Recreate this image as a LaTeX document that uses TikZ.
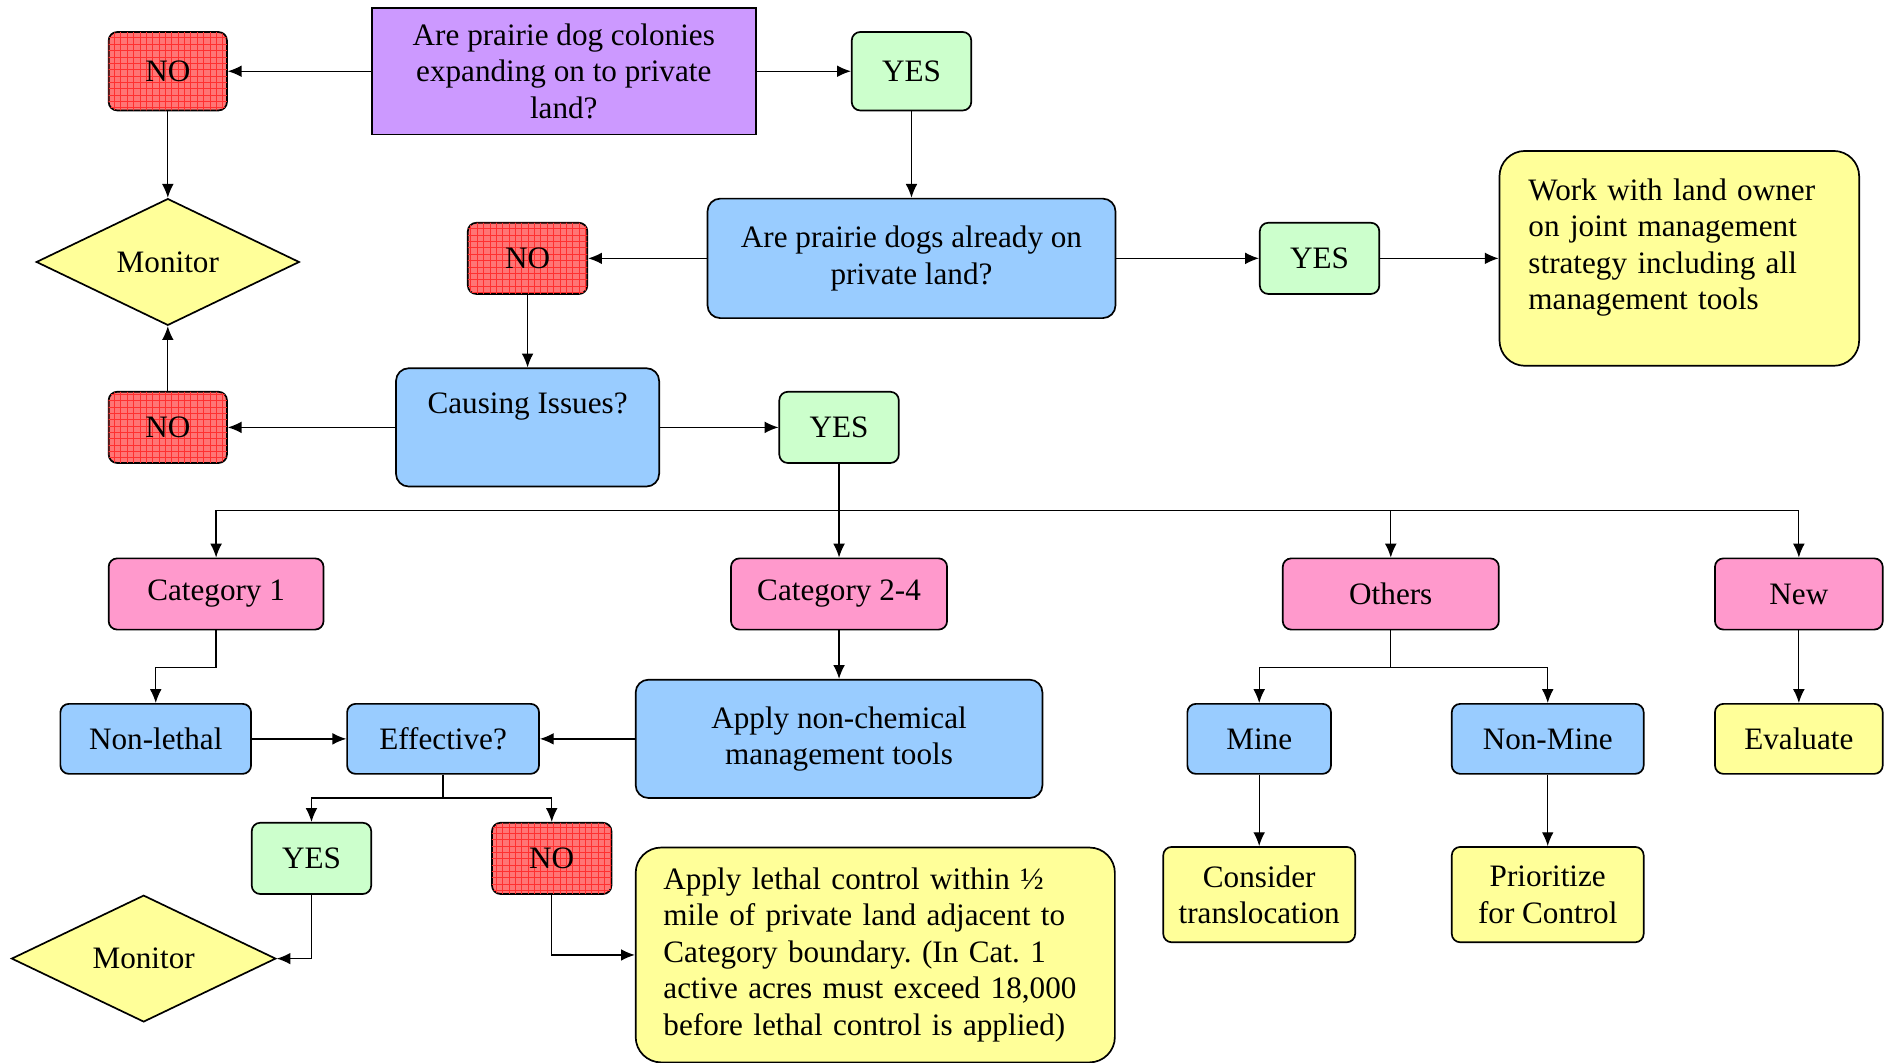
\documentclass[tikz,border=0pt]{standalone}
\usepackage{fontspec}
\setmainfont{Liberation Serif}
\usetikzlibrary{shapes.geometric, patterns, arrows.meta}
\definecolor{lilac}{HTML}{CC99FF}
\definecolor{mint}{HTML}{CCFFCC}
\definecolor{skyblue}{HTML}{99CCFF}
\definecolor{rose}{HTML}{FF99CC}
\definecolor{paleyellow}{HTML}{FFFF99}
\definecolor{stopred}{HTML}{FF7575}
\definecolor{gridred}{HTML}{FF3030}
\begin{document}
\frenchspacing
\begin{tikzpicture}[x=0.02cm,y=-0.02cm]
	\tikzstyle{box} = [draw=black,line width=0.8pt,font=\fontsize{14.7}{17.2}\selectfont,inner sep=2pt,align=center]
	\tikzstyle{nobox} = [box,rounded corners=4pt,fill=stopred,postaction={pattern=grid,pattern color=gridred}]
	\tikzstyle{yesbox} = [box,rounded corners=4pt,fill=mint]
	\tikzstyle{bluebox} = [box,rounded corners=6pt,fill=skyblue]
	\tikzstyle{catbox} = [box,rounded corners=4pt,fill=rose]
	\tikzstyle{yellowbox} = [box,rounded corners=6pt,fill=paleyellow]
	\tikzstyle{decision} = [box,diamond,fill=paleyellow,inner sep=0pt]
	\tikzstyle{edge} = [-{Latex[length=6.5pt,width=5.5pt]},line width=0.6pt]
	\tikzstyle{line} = [-,line width=0.6pt]
	\useasboundingbox (0,0) rectangle (1568,880);
	% top question
	\node[box,fill=lilac,minimum width=6.36cm,minimum height=2.1cm] (q1) at (467,59) {Are prairie dog colonies\\expanding on to private\\land?};
	\node[nobox,minimum width=1.96cm,minimum height=1.3cm] (no1) at (139,59) {NO};
	\node[yesbox,minimum width=1.98cm,minimum height=1.3cm] (yes1) at (755,59) {YES};
	\node[decision,minimum width=4.36cm,minimum height=2.1cm] (mon1) at (139,217) {Monitor};
	% already on private land
	\node[bluebox,minimum width=6.76cm,minimum height=1.98cm] (q2) at (755,214) {Are prairie dogs already on\\private land?};
	\node[nobox,minimum width=1.98cm,minimum height=1.18cm] (no2) at (437,214) {NO};
	\node[yesbox,minimum width=1.98cm,minimum height=1.18cm] (yes2) at (1093,214) {YES};
	\node[yellowbox,rounded corners=12pt,minimum width=5.96cm,minimum height=3.56cm,text width=5.0cm,align=left] (work) at (1391,214) {Work with land owner\\on joint management\\strategy including all\\management tools\\[-9pt]\strut};
	% causing issues
	\node[bluebox,minimum width=4.36cm,minimum height=1.96cm] (causing) at (437,354) {Causing Issues?\\ \strut};
	\node[nobox,minimum width=1.96cm,minimum height=1.18cm] (no3) at (139,354) {NO};
	\node[yesbox,minimum width=1.98cm,minimum height=1.18cm] (yes3) at (695,354) {YES};
	% categories
	\node[catbox,minimum width=3.56cm,minimum height=1.18cm] (cat1) at (179,492) {Category 1};
	\node[catbox,minimum width=3.58cm,minimum height=1.18cm] (cat24) at (695,492) {Category 2-4};
	\node[catbox,minimum width=3.58cm,minimum height=1.18cm] (others) at (1152,492) {Others};
	\node[catbox,minimum width=2.78cm,minimum height=1.18cm] (new) at (1490,492) {New};
	% second level
	\node[bluebox,rounded corners=4pt,minimum width=3.16cm,minimum height=1.16cm] (nonlethal) at (129,612) {Non-lethal};
	\node[bluebox,rounded corners=4pt,minimum width=3.18cm,minimum height=1.16cm] (effective) at (367,612) {Effective?};
	\node[bluebox,minimum width=6.74cm,minimum height=1.96cm] (nonchem) at (695,612) {Apply non-chemical\\management tools};
	\node[bluebox,rounded corners=4pt,minimum width=2.38cm,minimum height=1.16cm] (mine) at (1043,612) {Mine};
	\node[bluebox,rounded corners=4pt,minimum width=3.18cm,minimum height=1.16cm] (nonmine) at (1282,612) {Non-Mine};
	\node[yellowbox,rounded corners=4pt,minimum width=2.78cm,minimum height=1.16cm] (eval) at (1490,612) {Evaluate};
	% bottom level
	\node[yesbox,minimum width=1.98cm,minimum height=1.18cm] (yes4) at (258,711) {YES};
	\node[nobox,minimum width=1.98cm,minimum height=1.18cm] (no4) at (457,711) {NO};
	\node[decision,minimum width=4.38cm,minimum height=2.1cm] (mon2) at (119,794) {Monitor};
	\node[yellowbox,rounded corners=12pt,minimum width=7.94cm,minimum height=3.56cm,text width=7.02cm,align=left] (lethal) at (725,791) {Apply lethal control within ½\\mile of private land adjacent to\\Category boundary. (In Cat. 1\\active acres must exceed 18,000\\before lethal control is applied)};
	\node[yellowbox,rounded corners=4pt,minimum width=3.18cm,minimum height=1.58cm,inner sep=0pt] (consider) at (1043,741) {Consider\\translocation};
	\node[yellowbox,rounded corners=4pt,minimum width=3.18cm,minimum height=1.58cm] (prior) at (1282,741) {Prioritize\\for Control};
	% split points
	\coordinate (bar) at (695,423);
	\coordinate (c1split) at (179,553);
	\coordinate (effsplit) at (367,661);
	\coordinate (osplit) at (1152,553);

	\draw[edge] (q1)--(no1);
	\draw[edge] (q1)--(yes1);
	\draw[edge] (no1)--(mon1);
	\draw[edge] (yes1)--(q2);
	\draw[edge] (q2)--(no2);
	\draw[edge] (q2)--(yes2);
	\draw[edge] (yes2)--(work);
	\draw[edge] (no2)--(causing);
	\draw[edge] (causing)--(no3);
	\draw[edge] (causing)--(yes3);
	\draw[edge] (no3)--(mon1);
	\draw[line] (yes3)--(bar);
	\draw[edge] (bar)-|(cat1);
	\draw[edge] (bar)--(cat24);
	\draw[edge] (bar)-|(others);
	\draw[edge] (bar)-|(new);
	\draw[line] (cat1)--(c1split);
	\draw[edge] (c1split)-|(nonlethal);
	\draw[edge] (nonlethal)--(effective);
	\draw[edge] (cat24)--(nonchem);
	\draw[edge] (nonchem)--(effective);
	\draw[line] (effective)--(effsplit);
	\draw[edge] (effsplit)-|(yes4);
	\draw[edge] (effsplit)-|(no4);
	\draw[edge] (yes4)|-(mon2);
	\draw[edge] (no4)|-(lethal);
	\draw[line] (others)--(osplit);
	\draw[edge] (osplit)-|(mine);
	\draw[edge] (osplit)-|(nonmine);
	\draw[edge] (mine)--(consider);
	\draw[edge] (nonmine)--(prior);
	\draw[edge] (new)--(eval);
\end{tikzpicture}
\end{document}
